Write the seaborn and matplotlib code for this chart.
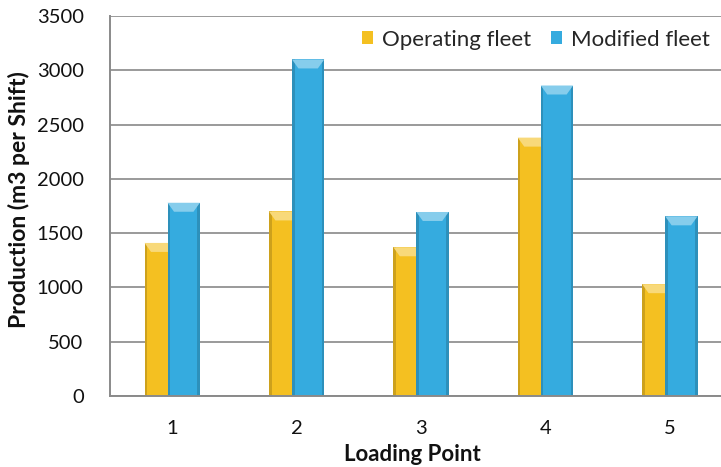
import matplotlib
matplotlib.use("Agg")
import matplotlib.pyplot as plt
from matplotlib.patches import Polygon, Rectangle
import matplotlib.colors as mcolors
import seaborn as sns
import pandas as pd

# Production per shift at each loading point
loading_points = ["1", "2", "3", "4", "5"]
operating_fleet = [1410, 1700, 1370, 2380, 1030]
modified_fleet = [1780, 3100, 1695, 2860, 1655]
series_names = ["Operating fleet", "Modified fleet"]
y_ticks = [0, 500, 1000, 1500, 2000, 2500, 3000, 3500]

colors = {"Operating fleet": "#F4C021", "Modified fleet": "#35ABDF"}

df = pd.DataFrame({
    "Loading Point": loading_points * 2,
    "Production": operating_fleet + modified_fleet,
    "Fleet": [series_names[0]] * len(loading_points) + [series_names[1]] * len(loading_points),
})

sns.set_theme(style="white")
plt.rcParams["font.family"] = ["Lato", "DejaVu Sans"]

fig = plt.figure(figsize=(7.21, 4.67), dpi=100)
ax = fig.add_axes([0.1526, 0.152, 0.8627, 0.8137])

sns.barplot(data=df, x="Loading Point", y="Production", hue="Fleet",
            palette=colors, width=0.37, dodge=True, saturation=1,
            linewidth=0, ax=ax)

# widen bars so the second series overlaps the first, and give each
# series its own layer so the bevel trim stays under the next series
bar_w = 0.26
n = len(loading_points)
for i, p in enumerate(ax.patches[:2 * n]):
    cx = p.get_x() + p.get_width() / 2
    p.set_width(bar_w)
    p.set_x(cx - bar_w / 2)
    p.set_zorder(3 + i // n)

ax.set_ylim(0, 3500)
ax.set_xlim(-0.5, 4.5)
ax.set_yticks(y_ticks)
ax.yaxis.grid(True, color="#9a9a9a", linewidth=1.4, zorder=0)
ax.set_axisbelow(True)

fig.canvas.draw()
# bevel: light top face and darker side edges on each bar
px_per_unit = ax.transData.transform((0, 1000))[1] - ax.transData.transform((0, 0))[1]
dh = 9 * 1000 / px_per_unit
for p in list(ax.patches[:2 * n]):
    h = p.get_height()
    x0, w = p.get_x(), p.get_width()
    base = mcolors.to_rgb(p.get_facecolor())
    light = tuple(min(1, c + (1 - c) * 0.4) for c in base)
    dark = tuple(c * 0.84 for c in base)
    z = p.get_zorder()
    side = w * 0.08
    ax.add_patch(Rectangle((x0, 0), side, h, facecolor=dark, edgecolor="none", zorder=z + 0.1))
    ax.add_patch(Rectangle((x0 + w - side, 0), side, h, facecolor=dark, edgecolor="none", zorder=z + 0.1))
    ax.add_patch(Polygon([(x0, h), (x0 + w, h), (x0 + w - w * 0.2, h - dh), (x0 + w * 0.2, h - dh)],
                         closed=True, facecolor=light, edgecolor="none", zorder=z + 0.2))

for side_name in ["top", "right"]:
    ax.spines[side_name].set_visible(False)
for side_name in ["left", "bottom"]:
    ax.spines[side_name].set_color("#8a8a8a")
    ax.spines[side_name].set_linewidth(1.4)
    ax.spines[side_name].set_zorder(6)

ax.tick_params(axis="both", length=0, labelsize=14.5, colors="#111111")
ax.tick_params(axis="y", pad=19)
ax.tick_params(axis="x", pad=17)
ax.set_xlabel("Loading Point", fontsize=16, fontweight="bold", color="#111111")
ax.set_ylabel("Production (m3 per Shift)", fontsize=16.5, fontweight="bold", color="#111111")
ax.xaxis.set_label_coords(0.4865, -0.126)
ax.yaxis.set_label_coords(-0.128, 0.518)

sns.move_legend(ax, "center right", ncol=2, frameon=False, title=None,
                bbox_to_anchor=(1.0, 0.915), bbox_transform=fig.transFigure,
                fontsize=16, handlelength=0.5, handleheight=0.5,
                handletextpad=0.4, columnspacing=0.9, borderaxespad=0.1)

fig.savefig("out.png", dpi=100)
